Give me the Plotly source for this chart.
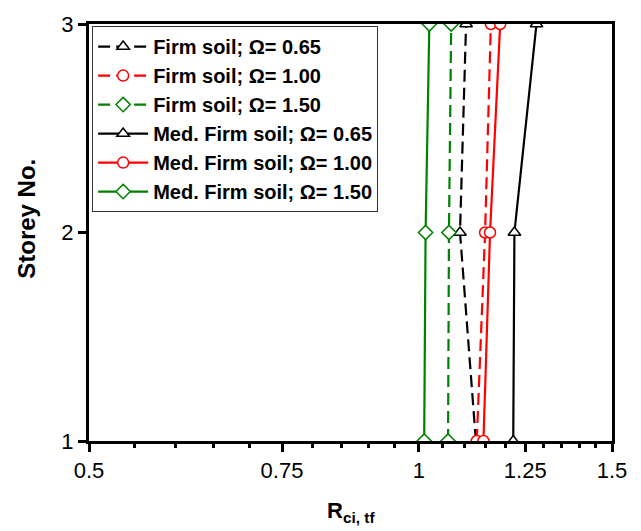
import plotly.graph_objects as go

storeys = [1, 2, 3]
firm_065 = [1.127, 1.090, 1.104]
firm_100 = [1.129, 1.149, 1.163]
firm_150 = [1.063, 1.065, 1.070]
med_065 = [1.219, 1.222, 1.280]
med_100 = [1.145, 1.161, 1.186]
med_150 = [1.011, 1.014, 1.022]

series = [
    ("Firm soil; <b>Ω</b>= 0.65", firm_065, "black", "triangle-up", "dash"),
    ("Firm soil; <b>Ω</b>= 1.00", firm_100, "#FF0000", "circle", "dash"),
    ("Firm soil; <b>Ω</b>= 1.50", firm_150, "#008000", "diamond", "dash"),
    ("Med. Firm soil; <b>Ω</b>= 0.65", med_065, "black", "triangle-up", "solid"),
    ("Med. Firm soil; <b>Ω</b>= 1.00", med_100, "#FF0000", "circle", "solid"),
    ("Med. Firm soil; <b>Ω</b>= 1.50", med_150, "#008000", "diamond", "solid"),
]

x_tickvals = [0.5, 0.75, 1, 1.25, 1.5]
x_ticktext = ["0.5", "0.75", "1", "1.25", "1.5"]
x_minor = [0.55, 0.6, 0.65, 0.7, 0.8, 0.85, 0.9, 0.95, 1.05, 1.1, 1.15, 1.2, 1.3, 1.35, 1.4, 1.45]

fig = go.Figure()
for i, (name, vals, color, sym, dash) in enumerate(series):
    fig.add_trace(go.Scatter(
        x=vals, y=storeys, mode="lines+markers", name="<b>" + name + "</b>",
        legendgroup=str(i), cliponaxis=True,
        line=dict(color=color, width=2.2, dash="12px,6px" if dash == "dash" else "solid"),
        marker=dict(symbol=sym, size=11, color="white", line=dict(color=color, width=1.5)),
    ))

fig.update_layout(
    width=641, height=531,
    margin=dict(l=89, r=29, t=21, b=90),
    paper_bgcolor="white", plot_bgcolor="white",
    font=dict(family="Liberation Sans, Arial, sans-serif", color="black"),
    legend=dict(
        x=0.006, y=0.995, xanchor="left", yanchor="top",
        bgcolor="white", bordercolor="#333333", borderwidth=1,
        font=dict(size=20, color="black"),
        traceorder="grouped", tracegroupgap=0, itemwidth=50,
    ),
    xaxis=dict(
        type="log", range=[0.69897 - 1, 0.176091],
        tickmode="array", tickvals=x_tickvals, ticktext=x_ticktext,
        ticks="outside", ticklen=8, tickwidth=2.5, tickcolor="black",
        tickfont=dict(size=22),
        showline=True, linecolor="black", linewidth=3, mirror=True,
        showgrid=False, zeroline=False,
        minor=dict(tickvals=x_minor, ticks="outside", ticklen=4, tickwidth=2.5,
                   tickcolor="black", showgrid=False),
    ),
    yaxis=dict(
        range=[1, 3], tickvals=[1, 2, 3],
        ticks="outside", ticklen=8, tickwidth=2.5, tickcolor="black",
        tickfont=dict(size=22),
        showline=True, linecolor="black", linewidth=3, mirror=True,
        showgrid=False, zeroline=False,
    ),
    annotations=[
        dict(text="<b>Storey No.</b>", xref="paper", yref="paper", x=-0.1185, y=0.533,
             xanchor="center", yanchor="middle", textangle=-90, showarrow=False,
             font=dict(size=24)),
        dict(text="<b>R<sub>ci, tf</sub></b>", xref="paper", yref="paper", x=0.5, y=-0.17,
             xanchor="center", yanchor="middle", showarrow=False,
             font=dict(size=22)),
    ],
)

fig.write_html("out.html", config={"displayModeBar": False},
               post_script="document.body.style.margin='0';document.body.style.overflow='hidden';")
